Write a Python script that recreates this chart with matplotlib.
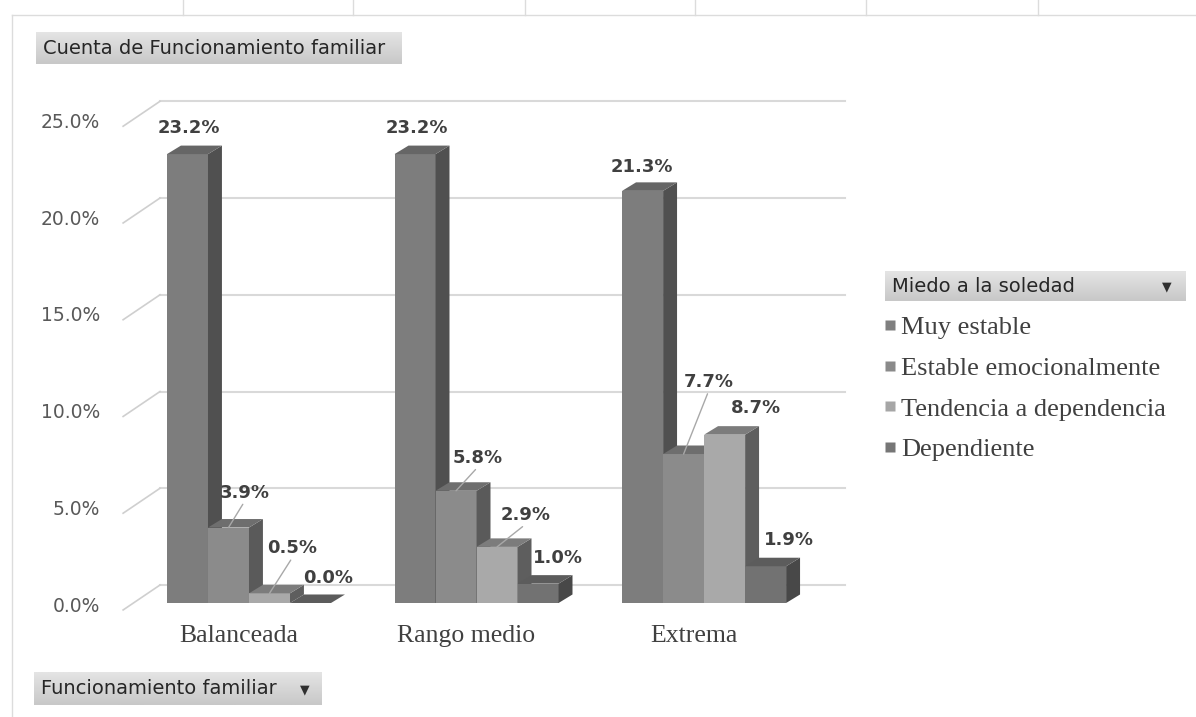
import matplotlib
matplotlib.use("Agg")
import matplotlib.pyplot as plt
import numpy as np
from matplotlib.patches import Polygon
from matplotlib.lines import Line2D
from matplotlib.colors import LinearSegmentedColormap

groups = ["Balanceada", "Rango medio", "Extrema"]
series = ["Muy estable", "Estable emocionalmente",
          "Tendencia a dependencia", "Dependiente"]
muy_estable = [23.2, 23.2, 21.3]
estable = [3.9, 5.8, 7.7]
tendencia = [0.5, 2.9, 8.7]
dependiente = [0.0, 1.0, 1.9]
y_ticks = [0, 5, 10, 15, 20, 25]

values = [muy_estable, estable, tendencia, dependiente]

# grey shades: front face, right side, top face, legend square
front = ["#7d7d7d", "#8b8b8b", "#a9a9a9", "#727272"]
side = ["#505050", "#5a5a5a", "#5e5e5e", "#484848"]
top = ["#666666", "#6e6e6e", "#7c7c7c", "#5c5c5c"]
legend_col = ["#7f7f7f", "#8a8a8a", "#a6a6a6", "#767676"]

# label nudges in pixels (right, up) from the front-top centre of each bar
nudge = [[(1, 26), (2, 26), (-1, 24)],
         [(16, 35), (22, 33), (25, 72)],
         [(23, 45), (29, 32), (31, 27)],
         [(18, 25), (20, 26), (23, 26)]]
leader = [[False, False, False],
          [True, True, True],
          [True, True, False],
          [False, False, False]]

W, H = 1196, 717
fig = plt.figure(figsize=(W / 100, H / 100), dpi=100)


def fx(px):
    return px / W


def fy(py):
    return 1 - py / H


ax = fig.add_axes([fx(100), fy(660), 770 / W, 580 / H])
ax.set_xlim(-1.634, 17.146)
ax.set_ylim(-2.946, 27.03)
ax.axis("off")

# fake 3d geometry (data units)
step = 5.55
bar_dx, bar_dy = 0.34, 0.44
floor_l, floor_r = -0.82, 15.89
back_dx, back_dy = 0.65, 0.93
front_dx, front_dy = -0.25, -0.36

for t in y_ticks:
    ax.plot([floor_l + back_dx, floor_r + back_dx], [t + back_dy] * 2,
            color="#d9d9d9", lw=1.5, zorder=1)
    ax.plot([floor_l + front_dx, floor_l + back_dx],
            [t + front_dy, t + back_dy], color="#cfcfcf", lw=1.2, zorder=1)
    ax.text(floor_l + front_dx - 0.56, t + front_dy + 0.2, f"{t:.1f}%",
            ha="right", va="center", fontsize=13.5, color="#595959")

for j in range(len(series)):
    xs = [i * step + j for i in range(len(groups))]
    ax.bar(xs, values[j], width=1, align="edge", color=front[j],
           linewidth=0, zorder=3 + 2 * j)
    for i, x0 in enumerate(xs):
        v = values[j][i]
        ax.add_patch(Polygon([(x0 + 1, 0), (x0 + 1 + bar_dx, bar_dy),
                              (x0 + 1 + bar_dx, v + bar_dy), (x0 + 1, v)],
                             closed=True, facecolor=side[j], lw=0,
                             zorder=3.5 + 2 * j))
        ax.add_patch(Polygon([(x0, v), (x0 + bar_dx, v + bar_dy),
                              (x0 + 1 + bar_dx, v + bar_dy), (x0 + 1, v)],
                             closed=True, facecolor=top[j], lw=0,
                             zorder=3.5 + 2 * j))
        nx, ny = nudge[j][i]
        props = None
        if leader[j][i]:
            props = dict(arrowstyle="-", color="#a8a8a8", lw=1,
                         shrinkA=0, shrinkB=0, relpos=(0.5, 0))
        ax.annotate(f"{v:.1f}%", xy=(x0 + 0.5, v),
                    xytext=(nx * 0.72, ny * 0.72), textcoords="offset points",
                    ha="center", va="center", fontsize=13, fontweight="bold",
                    color="#404040", zorder=20, arrowprops=props)

for i, g in enumerate(groups):
    ax.text(i * step + 2 - 0.25, -1.7, g, ha="center", va="center",
            family="Liberation Serif", fontsize=18.5, color="#404040")

# legend
handles = [Line2D([], [], marker="s", linestyle="none", markersize=7.5,
                  markerfacecolor=c, markeredgecolor="none")
           for c in legend_col]
leg = fig.legend(handles, series, loc="upper left",
                 bbox_to_anchor=(fx(883), fy(316)), frameon=False,
                 prop={"family": "Liberation Serif", "size": 19},
                 handlelength=0.5, handletextpad=0.2, labelspacing=0.65,
                 borderpad=0, borderaxespad=0)
for txt in leg.get_texts():
    txt.set_color("#404040")

# pivot field buttons with a light vertical gradient
grad = LinearSegmentedColormap.from_list("btn", ["#e4e4e4", "#c8c8c8"])


def button(x0, y0, x1, y1, text, arrow_x=None):
    bax = fig.add_axes([fx(x0), fy(y1), (x1 - x0) / W, (y1 - y0) / H])
    bax.imshow(np.linspace(0, 1, 32).reshape(-1, 1), cmap=grad,
               aspect="auto", extent=(0, 1, 0, 1))
    bax.axis("off")
    mid = (y0 + y1) / 2
    fig.text(fx(x0 + 7), fy(mid), text, ha="left", va="center",
             fontsize=14, color="#262626")
    if arrow_x is not None:
        fig.text(fx(arrow_x), fy(mid + 1), "\u25BC", ha="center",
                 va="center", fontsize=9, color="#303030")


button(36, 32, 402, 64, "Cuenta de Funcionamiento familiar")
button(885, 271, 1186, 301, "Miedo a la soledad", arrow_x=1167)
button(34, 672, 322, 705, "Funcionamiento familiar", arrow_x=305)

# spreadsheet cell lines behind the chart
fig.add_artist(Line2D([fx(12), 1], [fy(15), fy(15)],
                      transform=fig.transFigure, color="#dcdcdc", lw=1))
fig.add_artist(Line2D([fx(12), fx(12)], [fy(15), 0],
                      transform=fig.transFigure, color="#dcdcdc", lw=1))
for cx in [183, 353, 525, 695, 866, 1038]:
    fig.add_artist(Line2D([fx(cx), fx(cx)], [1, fy(15)],
                          transform=fig.transFigure, color="#dcdcdc", lw=1))

fig.savefig("out.png", dpi=100, facecolor="white")
